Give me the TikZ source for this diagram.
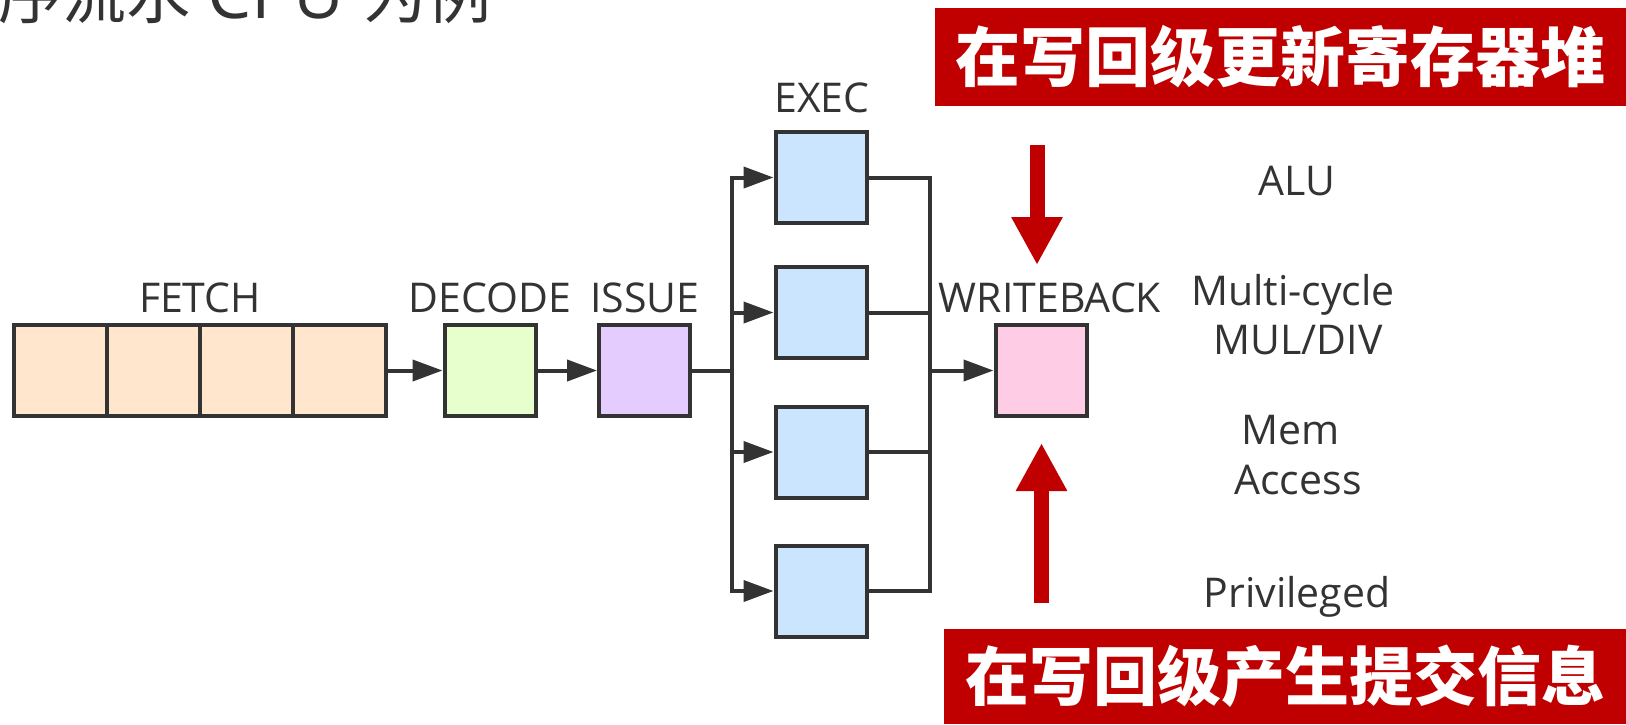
\documentclass[tikz,border=0pt]{standalone}
\usepackage{fontspec}
\setmainfont{Open Sans}
\newfontfamily\cjk{Noto Sans CJK SC}
\usetikzlibrary{arrows.meta}

\definecolor{ink}{HTML}{333333}
\definecolor{fetchc}{HTML}{FFE6CC}
\definecolor{decc}{HTML}{E6FFCC}
\definecolor{issc}{HTML}{E5CCFF}
\definecolor{exc}{HTML}{CCE5FF}
\definecolor{wbc}{HTML}{FFCCE6}
\definecolor{bannerc}{HTML}{C00000}

\begin{document}
\begin{tikzpicture}[x=1pt,y=-1pt,
  stage/.style={draw=ink, line width=4pt, minimum width=91pt, minimum height=91pt, inner sep=0pt},
  cell/.style={stage, fill=fetchc, minimum width=93pt},
  wire/.style={draw=ink, line width=4pt, line cap=rect, line join=miter},
  tip/.style={-{Triangle[length=30pt,width=21pt]}},
  lbl/.style={font=\fontsize{41}{49}\selectfont, text=ink, inner sep=0pt, anchor=base},
  banner/.style={fill=bannerc, text=white, inner sep=0pt},
  redarrow/.style={draw=bannerc, line width=15pt, -{Triangle[length=48pt,width=48pt]}}]

\clip (0,0) rectangle (1626,724);
\fill[white] (0,0) rectangle (1626,724);

% heading, partly above the page
\node[anchor=base west, inner sep=0pt, text=ink, font=\cjk\fontsize{64}{64}\selectfont] (title) at (-2,18)
  {序流水\hspace{17pt}{\fontfamily{\familydefault}\fontsize{70}{70}\selectfont CPU}\hspace{19pt}为例};

% fetch buffer
\node[cell] (f1) at (60.5,370.5) {};
\node[cell] (f2) at (153.5,370.5) {};
\node[cell] (f3) at (246.5,370.5) {};
\node[cell] (f4) at (339.5,370.5) {};

% pipeline stages
\node[stage, fill=decc] (dec) at (490,370.5) {};
\node[stage, fill=issc] (iss) at (644.5,370.5) {};
\node[stage, fill=exc] (ex1) at (821,177.5) {};
\node[stage, fill=exc] (ex2) at (821,312.5) {};
\node[stage, fill=exc] (ex3) at (821,452) {};
\node[stage, fill=exc] (ex4) at (821,591) {};
\node[stage, fill=wbc] (wb) at (1041,370.5) {};

% stage labels
\node[lbl] (lfetch) at (200,312) {FETCH};
\node[lbl] (ldec) at (490,312) {DECODE};
\node[lbl] (liss) at (645,312) {ISSUE};
\node[lbl] (lexec) at (822,112) {EXEC};
\node[lbl] (lwb) at (1050,312) {WRITEBACK};

% functional unit names
\node[lbl] (alu) at (1297,195) {ALU};
\node[lbl] (mc1) at (1293,305.5) {Multi-cycle};
\node[lbl] (mc2) at (1298,354) {MUL/DIV};
\node[lbl] (mem1) at (1291,444) {Mem};
\node[lbl] (mem2) at (1298,494) {Access};
\node[lbl] (priv) at (1297,607) {Privileged};

% dispatch and collect buses
\coordinate (busL) at (732,370.5);
\coordinate (busR) at (929.5,370.5);

\draw[wire, tip] (f4.east) -- (dec.west);
\draw[wire, tip] (dec.east) -- (iss.west);
\draw[wire] (iss.east) -- (busL);
\draw[wire] (ex1.west -| busL) -- (ex4.west -| busL);
\foreach \e in {ex1,ex2,ex3,ex4}
  \draw[wire, tip] (\e.west -| busL) -- (\e.west);

\draw[wire] (ex1.east) -- (ex1.east -| busR) -- (ex4.east -| busR) -- (ex4.east);
\draw[wire] (ex2.east) -- (ex2.east -| busR);
\draw[wire] (ex3.east) -- (ex3.east -| busR);
\draw[wire, tip] (busR) -- (wb.west);

% banners
\node[banner, minimum width=691pt, minimum height=98pt,
      font=\cjk\bfseries\fontsize{65}{65}\selectfont] (top) at (1280.5,57) {在写回级更新寄存器堆};
\node[banner, minimum width=682pt, minimum height=95pt,
      font=\cjk\bfseries\fontsize{64}{64}\selectfont] (bot) at (1285,676.5) {在写回级产生提交信息};

% red pointers at the writeback stage
\coordinate (d1) at (1037,145);
\coordinate (d2) at (1037,265);
\coordinate (u1) at (1041.5,603);
\coordinate (u2) at (1041.5,443);
\draw[redarrow] (d1) -- (d2);
\draw[redarrow] (u1) -- (u2);
\end{tikzpicture}
\end{document}
